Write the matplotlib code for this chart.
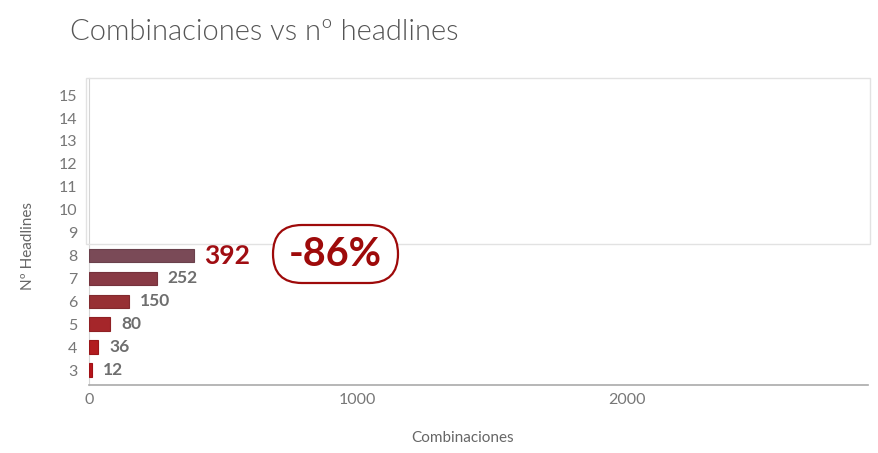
import matplotlib.pyplot as plt
from matplotlib.patches import Rectangle, FancyBboxPatch

# datos
headlines = [3, 4, 5, 6, 7, 8]
combinaciones = [12, 36, 80, 150, 252, 392]
colores = ["#b8151b", "#b21c1f", "#a5262a", "#973034", "#883a45", "#7a4a57"]
bordes = ["#a01015", "#9a1619", "#8f2024", "#822a2e", "#75323c", "#6a414c"]
yticks = list(range(3, 16))
xticks = [0, 1000, 2000]
reduccion = "-86%"

plt.rcParams['font.family'] = ['Lato', 'DejaVu Sans']

fig = plt.figure(figsize=(8.79, 4.53), dpi=100)
ax = fig.add_axes([0.101, 0.150, 0.887, 0.678])

# recuadro gris claro de fondo
fig.patches.append(Rectangle((86 / 879, 1 - 244 / 453), 784 / 879, 166 / 453,
                             transform=fig.transFigure, fill=False,
                             edgecolor="#e2e2e2", linewidth=1.0, zorder=0))

ax.barh(headlines, combinaciones, height=0.6, color=colores,
        edgecolor=bordes, linewidth=0.8, zorder=3)

for y, v in zip(headlines, combinaciones):
    if y == 8:
        ax.annotate(str(v), (v, y), xytext=(7, 0), textcoords="offset points",
                    va="center", ha="left", fontsize=19, fontweight="bold",
                    color="#a00d12", zorder=5,
                    bbox=dict(boxstyle="square,pad=0.15", fc="white", ec="none"))
    else:
        ax.annotate(str(v), (v, y), xytext=(8, 0), textcoords="offset points",
                    va="center", ha="left", fontsize=12.5, fontweight="bold",
                    color="#6e6e6e", zorder=5)

# pastilla con el porcentaje
pill = FancyBboxPatch((2.73, 1.70), 1.25, 0.58,
                      boxstyle="round,pad=0,rounding_size=0.29",
                      transform=fig.dpi_scale_trans, fc="white",
                      ec="#9e0a0a", lw=1.6, zorder=5)
fig.patches.append(pill)
fig.text(335.5 / 879, 1 - 255 / 453, reduccion,
         ha="center", va="center", fontsize=28.5, fontweight="bold",
         color="#9e0a0a", zorder=6)

ax.set_xlim(0, 2900)
ax.set_ylim(2.35, 15.75)
ax.set_yticks(yticks)
ax.set_xticks(xticks)
ax.tick_params(length=0, colors="#777777", labelsize=11.5)
ax.tick_params(axis="y", pad=8)
ax.tick_params(axis="x", pad=6)

for s in ["top", "right"]:
    ax.spines[s].set_visible(False)
ax.spines["left"].set_color("#d5d5d5")
ax.spines["bottom"].set_color("#aaaaaa")
ax.spines["bottom"].set_linewidth(1.2)

ax.set_xlabel("Combinaciones", fontsize=11, color="#666666")
ax.set_ylabel("Nº Headlines", fontsize=11, color="#666666")
ax.xaxis.set_label_coords(0.48, -0.15)
ax.yaxis.set_label_coords(-0.069, 0.453)

fig.text(70 / 879, 1 - 32 / 453, "Combinaciones vs nº headlines",
         fontsize=21, fontweight=300, color="#555555", va="center", ha="left")

fig.savefig("out.png", dpi=100)
